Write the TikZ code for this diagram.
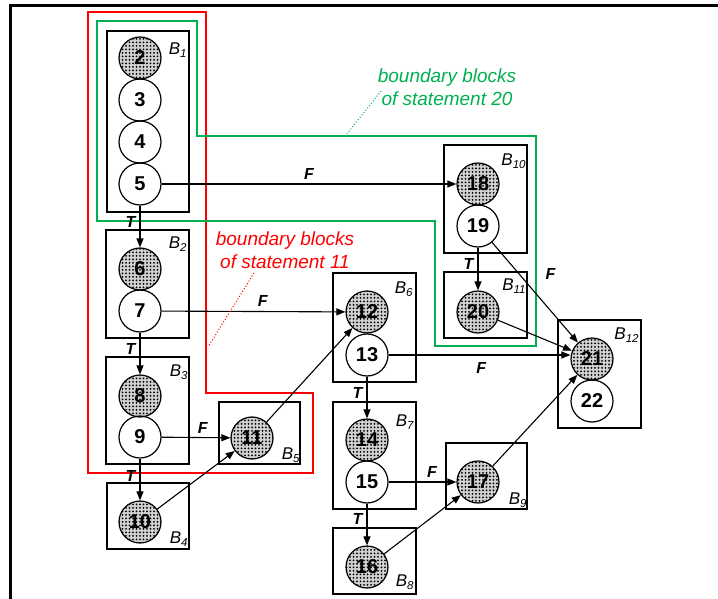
\documentclass[tikz,border=0pt]{standalone}
\usepackage{fontspec}
\setmainfont{Liberation Sans}
\usetikzlibrary{arrows.meta,patterns.meta,calc}
\definecolor{bgreen}{RGB}{0,176,80}
\newcommand{\blab}[1]{{\fontsize{17}{17}\selectfont\itshape B}\raisebox{-3pt}{\fontsize{11.5}{11.5}\selectfont\itshape #1}}
\begin{document}
\begin{tikzpicture}[x=1pt,y=-1pt,
  cir/.style={circle,draw,line width=1.2pt,minimum size=42pt,inner sep=0pt,font=\fontsize{20}{20}\selectfont\bfseries},
  shd/.style={cir,preaction={fill=black!18},pattern={Dots[distance=3.5pt,radius=1pt]}},
  blk/.style={draw,line width=1.5pt,inner sep=0pt},
  blab/.style={anchor=north east,inner sep=0pt},
  conn/.style={line width=1.1pt,-{Triangle[length=9pt,width=7pt]}},
  lab/.style={font=\fontsize{16}{16}\selectfont\bfseries\itshape,inner sep=1pt},
  bnd/.style={line width=2.5pt},
  note/.style={font=\fontsize{19}{23}\selectfont\itshape,align=center,inner sep=0pt}]
\useasboundingbox (0,0) rectangle (718,599);
% frame
\draw[line width=3pt] (718,6) -- (10,6) -- (10,599);
% boundaries
\draw[red,bnd] (88,12) -- (206,12) -- (206,393) -- (313,393) -- (313,473) -- (88,473) -- cycle;
\draw[bgreen,bnd] (97,21) -- (197,21) -- (197,136) -- (536,136) -- (536,346) -- (435,346) -- (435,221) -- (97,221) -- cycle;
% blocks
\node[blk,minimum width=82pt,minimum height=181pt] (b1) at (148,121.5) {};
\node[blk,minimum width=83pt,minimum height=108pt] (b2) at (147.5,284) {};
\node[blk,minimum width=83pt,minimum height=107pt] (b3) at (147.5,410.5) {};
\node[blk,minimum width=82pt,minimum height=66pt] (b4) at (148,516) {};
\node[blk,minimum width=81pt,minimum height=62pt] (b5) at (259.5,433) {};
\node[blk,minimum width=83pt,minimum height=109pt] (b6) at (374.5,327.5) {};
\node[blk,minimum width=83pt,minimum height=107pt] (b7) at (374.5,455.5) {};
\node[blk,minimum width=83pt,minimum height=66pt] (b8) at (374.5,561) {};
\node[blk,minimum width=81pt,minimum height=66pt] (b9) at (486.5,476) {};
\node[blk,minimum width=83pt,minimum height=108pt] (b10) at (485.5,199) {};
\node[blk,minimum width=83pt,minimum height=66pt] (b11) at (485.5,305) {};
\node[blk,minimum width=83pt,minimum height=108pt] (b12) at (599.5,374) {};
% block labels
\node[blab] (l1) at ($(b1.north east)+(-3,12)$) {\blab{1}};
\node[blab] (l2) at ($(b2.north east)+(-3,7)$) {\blab{2}};
\node[blab] (l3) at ($(b3.north east)+(-2,8)$) {\blab{3}};
\node[blab] (l4) at ($(b4.south east)+(-2,-18)$) {\blab{4}};
\node[blab] (l5) at ($(b5.south east)+(-1,-17)$) {\blab{5}};
\node[blab] (l6) at ($(b6.north east)+(-4,9)$) {\blab{6}};
\node[blab] (l7) at ($(b7.north east)+(-3,13)$) {\blab{7}};
\node[blab] (l8) at ($(b8.south east)+(-3,-20)$) {\blab{8}};
\node[blab] (l9) at ($(b9.south east)+(-1,-17)$) {\blab{9}};
\node[blab] (l10) at ($(b10.north east)+(-2,9)$) {\blab{10}};
\node[blab] (l11) at ($(b11.north east)+(-2,7)$) {\blab{11}};
\node[blab] (l12) at ($(b12.north east)+(-3,8)$) {\blab{12}};
% statements
\node[shd] (c2) at (140,58) {2};
\node[cir] (c3) at (140,100) {3};
\node[cir] (c4) at (140,142) {4};
\node[cir] (c5) at (140,184) {5};
\node[shd] (c6) at (140,269) {6};
\node[cir] (c7) at (140,311) {7};
\node[shd] (c8) at (140,396) {8};
\node[cir] (c9) at (140,437) {9};
\node[shd] (c10) at (140,522) {10};
\node[shd] (c11) at (252,438) {11};
\node[shd] (c12) at (367,312) {12};
\node[cir] (c13) at (367,355) {13};
\node[shd] (c14) at (367,440) {14};
\node[cir] (c15) at (367,482) {15};
\node[shd] (c16) at (367,567) {16};
\node[shd] (c17) at (478,482) {17};
\node[shd] (c18) at (478,184) {18};
\node[cir] (c19) at (478,226) {19};
\node[shd] (c20) at (478,312) {20};
\node[shd] (c21) at (592,359) {21};
\node[cir] (c22) at (592,401) {22};
% connectors
\draw[conn] (c5) -- node[lab,pos=0.4,left=3pt] {T} (c6);
\draw[conn] (c5) -- node[lab,pos=0.5,above=3pt] {F} (c18);
\draw[conn] (c7) -- node[lab,pos=0.4,left=3pt] {T} (c8);
\draw[conn] (c7) -- node[lab,pos=0.55,above=3pt] {F} (c12);
\draw[conn] (c9) -- node[lab,pos=0.42,left=3pt] {T} (c10);
\draw[conn] (c9) -- node[lab,pos=0.6,above=3pt] {F} (c11);
\draw[conn] (c10) -- (c11);
\draw[conn] (c11) -- (c12);
\draw[conn] (c13) -- node[lab,pos=0.4,left=3pt] {T} (c14);
\draw[conn] (c13.east) -- node[lab,pos=0.51,below=6pt] {F} (c13.east -| c21.west);
\draw[conn] (c15) -- node[lab,pos=0.37,left=3pt] {T} (c16);
\draw[conn] (c15) -- node[lab,pos=0.64,above=3pt] {F} (c17);
\draw[conn] (c16) -- (c17);
\draw[conn] (c17) -- (c21);
\draw[conn] (c19) -- node[lab,pos=0.39,left=3pt] {T} (c20);
\draw[conn] (c19) -- node[lab,pos=0.49,above right=10pt] {F} (c21);
\draw[conn] (c20) -- (c21);
% notes
\node[note,red] (rt) at (285,250.5) {boundary blocks\\of statement 11};
\coordinate (rs) at (254,273);
\coordinate (rd) at (208,347);
\draw[red,dotted,line width=1pt] (rs) -- (rd);
\node[note,bgreen] (gt) at (447,87) {boundary blocks\\of statement 20};
\coordinate (gs) at (381,91);
\coordinate (gd) at (347,134);
\draw[bgreen,dotted,line width=1pt] (gs) -- (gd);
\end{tikzpicture}
\end{document}
